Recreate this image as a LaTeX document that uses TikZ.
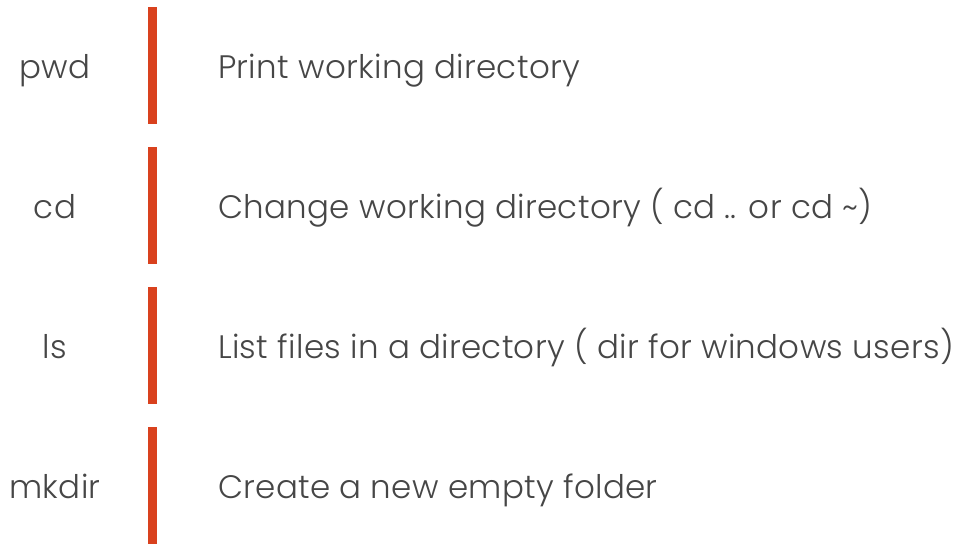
\documentclass[tikz,border=0pt]{standalone}
\usepackage{fontspec}
\setmainfont{Poppins}[UprightFont=* Light,LetterSpace=1.0]
\definecolor{barred}{HTML}{D9411E}
\definecolor{txtgrey}{HTML}{464646}
\begin{document}
\begin{tikzpicture}[x=1pt,y=-1pt,
  cmd/.style={anchor=base,inner sep=0pt,text=txtgrey,font=\fontsize{32.5}{36}\selectfont},
  desc/.style={anchor=base west,inner sep=0pt,text=txtgrey,font=\fontsize{32.5}{36}\selectfont},
  bar/.style={fill=barred,draw=none}]
\useasboundingbox (0,0) rectangle (965,552);
\foreach \i/\c/\d in {0/pwd/Print working directory,
  1/cd/{Change working directory ( cd .. or cd \textasciitilde)},
  2/ls/{List files in a directory ( dir for windows users)},
  3/mkdir/Create a new empty folder}{
  \pgfmathsetmacro{\t}{7+140*\i}
  \pgfmathsetmacro{\b}{124+140*\i}
  \pgfmathsetmacro{\y}{78+140*\i}
  \node[bar,minimum width=9pt,minimum height=117pt,inner sep=0pt] (bar\i) at (152.5,{(\t+\b)/2}) {};
  \node[cmd] (c\i) at (55,\y) {\c};
  \node[desc] (d\i) at (218,\y) {\d};
}
\end{tikzpicture}
\end{document}
